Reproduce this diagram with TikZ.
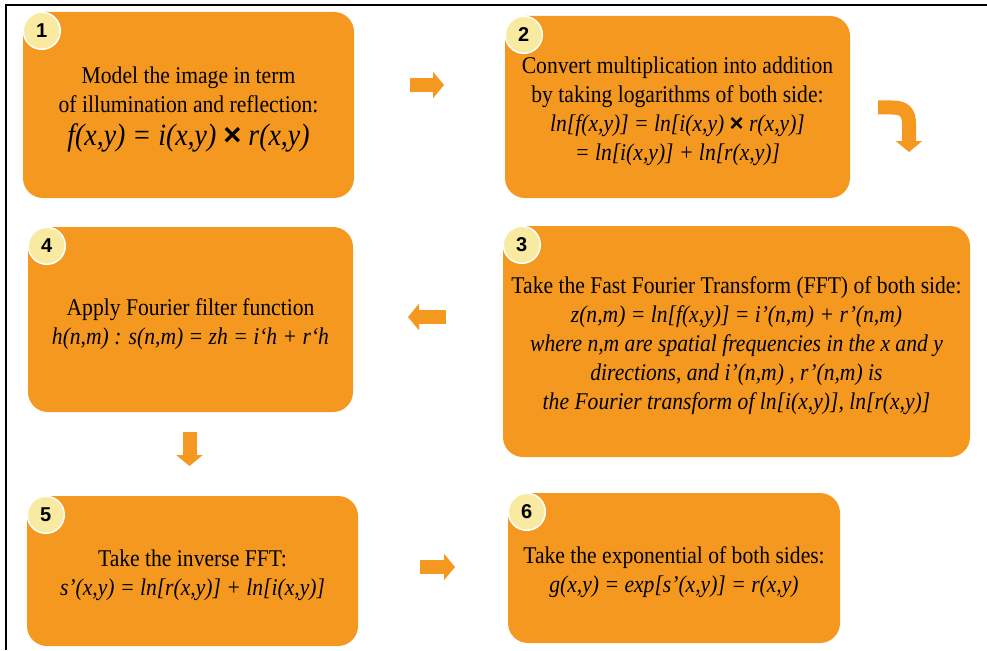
\documentclass[tikz,border=0pt]{standalone}
\usepackage{fontspec}
\setmainfont[FakeStretch=0.9]{Liberation Serif}
\newfontfamily\numfont{Liberation Sans}
\usetikzlibrary{arrows.meta,positioning,calc}
\definecolor{amber}{HTML}{F4981F}
\definecolor{cream}{HTML}{F8EAA0}
\newcommand{\tms}{{\numfont\bfseries\upshape ×}}
\newcommand{\topgap}{\rule{0pt}{26pt}}

\begin{document}
\begin{tikzpicture}[x=1pt,y=-1pt,every node/.style={font=\fontsize{24}{29}\selectfont,align=center,inner sep=0pt},box/.style={fill=amber,rounded corners=20pt},badge/.style={circle,fill=cream,draw=white,line width=1.5pt,minimum size=37pt,font=\numfont\bfseries\fontsize{20}{20}\selectfont},fat/.style={amber,line width=14pt,-{Triangle[length=11pt,width=26pt]}}]
\useasboundingbox (0,0) rectangle (987,650);
\draw[line width=2pt] (6,650) |- (987,5);
% the six steps
\node[box,minimum width=331pt,minimum height=186pt] (model) at (188.5,105) {\topgap Model the image in term\\ of illumination and reflection:\\[4pt] {\fontsize{31}{32}\selectfont\itshape f(x,y) = i(x,y) \tms{} r(x,y)}};
\node[box,minimum width=345pt,minimum height=182pt] (logs) at (677.5,107) {\topgap Convert multiplication into addition\\ by taking logarithms of both side:\\ \itshape ln[f(x,y)] = ln[i(x,y) \tms{} r(x,y)]\\ \itshape = ln[i(x,y)] + ln[r(x,y)]\hspace{22pt}};
\node[box,minimum width=467pt,minimum height=231pt] (fft) at (736.5,341.5) {\topgap Take the Fast Fourier Transform (FFT) of both side:\\ \itshape z(n,m) = ln[f(x,y)] = i’(n,m) + r’(n,m)\\ \itshape where n,m are spatial frequencies in the x and y\\ \itshape directions, and i’(n,m) , r’(n,m) is\\ \itshape the Fourier transform of ln[i(x,y)], ln[r(x,y)]};
\node[box,minimum width=325pt,minimum height=185pt] (filter) at (190.5,319.5) {\topgap Apply Fourier filter function\\ \itshape h(n,m) : s(n,m) = zh = i‘h + r‘h};
\node[box,minimum width=331pt,minimum height=150pt] (ifft) at (192.5,571) {\topgap Take the inverse FFT:\\ \itshape s’(x,y) = ln[r(x,y)] + ln[i(x,y)]};
\node[box,minimum width=332pt,minimum height=150pt] (expo) at (674,568) {\topgap Take the exponential of both sides:\\ \itshape g(x,y) = exp[s’(x,y)] = r(x,y)};
% step numbers
\foreach \b/\n in {model/1,logs/2,fft/3,filter/4,ifft/5,expo/6}
  \node[badge] (num\n) at ([shift={(19,19)}]\b.north west) {\n};
% arrows between the steps
\coordinate (a1s) at (410,85); \coordinate (a1e) at (444,85);
\coordinate (a2s) at (878,107.5); \coordinate (a2e) at (909,152);
\coordinate (a3s) at (446,317); \coordinate (a3e) at (408,317);
\coordinate (a4s) at (189.5,432); \coordinate (a4e) at (189.5,466);
\coordinate (a5s) at (420,567); \coordinate (a5e) at (455,567);
\draw[fat] (a1s) -- (a1e);
\draw[fat] (a2s) -- ++(14,0) .. controls +(12,0) and +(0,-12) .. ++(17,16.5) -- (a2e);
\draw[fat] (a3s) -- (a3e);
\draw[fat] (a4s) -- (a4e);
\draw[fat] (a5s) -- (a5e);
\end{tikzpicture}
\end{document}
